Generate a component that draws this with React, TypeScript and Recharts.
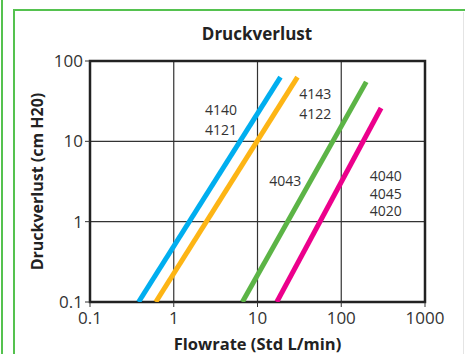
import {
  CartesianGrid,
  Label,
  Line,
  LineChart,
  ReferenceArea,
  ReferenceDot,
  XAxis,
  YAxis,
} from "recharts";

const FONT = "'Open Sans', 'Noto Sans', sans-serif";

const xTicks = [0.1, 1, 10, 100, 1000];
const yTicks = [0.1, 1, 10, 100];

// each line: flow rate (Std L/min) vs pressure drop (cm H2O), two ends in log-log
const flowBlue = [0.38, 18.8];
const dropBlue = [0.1, 63];
const flowOrange = [0.61, 30];
const dropOrange = [0.1, 63];
const flowGreen = [6.6, 199];
const dropGreen = [0.1, 55];
const flowPink = [17, 299];
const dropPink = [0.1, 26];

const colors = ["#00aeef", "#fdb515", "#5cb446", "#ec008c"];

// annotation text next to the lines
const noteLines = [["4140", "4121"], ["4143", "4122"], ["4043"], ["4040", "4045", "4020"]];
const noteX = [3.67, 49, 21.5, 339];
const noteY = [18.3, 29, 3.25, 2.24];
const noteGap = [20, 20, 0, 17.5];

const toPoints = (xs: number[], ys: number[]) => xs.map((x, i) => ({ x, y: ys[i] }));

const series = [
  toPoints(flowBlue, dropBlue),
  toPoints(flowOrange, dropOrange),
  toPoints(flowGreen, dropGreen),
  toPoints(flowPink, dropPink),
];

function Note({ viewBox, lines, gap }: any) {
  const { x, y } = viewBox;
  const top = y - ((lines.length - 1) * gap) / 2;
  return (
    <text textAnchor="middle" fill="#333" fontSize={14} fontFamily={FONT}>
      {lines.map((l: string, i: number) => (
        <tspan key={l} x={x} y={top + i * gap} dy="0.36em">
          {l}
        </tspan>
      ))}
    </text>
  );
}

export default function App() {
  return (
    <div
      style={{
        position: "absolute",
        left: 0,
        top: 0,
        width: 465,
        height: 354,
        background: "#fff",
        fontFamily: FONT,
      }}
    >
      <div style={{ position: "absolute", left: 1, top: 0, width: 2, height: 354, background: "#55c24f" }} />
      <div style={{ position: "absolute", left: 13, top: 9, width: 2, height: 345, background: "#55c24f" }} />
      <div style={{ position: "absolute", left: 13, top: 9, width: 452, height: 2, background: "#55c24f" }} />
      <div style={{ position: "absolute", left: 463, top: 12, width: 1, height: 342, background: "#e4e4e4" }} />
      <div
        style={{
          position: "absolute",
          left: 257,
          top: 33,
          transform: "translate(-50%, -50%)",
          fontWeight: 700,
          fontSize: 17,
          color: "#222",
          whiteSpace: "nowrap",
        }}
      >
        Druckverlust
      </div>
      <LineChart
        width={465}
        height={354}
        margin={{ top: 61, right: 40, bottom: 0, left: 0 }}
        style={{ position: "absolute", left: 0, top: 0 }}
      >
        <CartesianGrid stroke="#333" strokeWidth={1.2} />
        <XAxis
          dataKey="x"
          type="number"
          scale="log"
          domain={[0.1, 1000]}
          ticks={xTicks}
          allowDataOverflow
          height={52}
          axisLine={false}
          tickSize={5}
          tickMargin={5}
          tickLine={{ stroke: "#333" }}
          tick={{ fill: "#333", fontSize: 17, fontFamily: FONT }}
        >
          <Label
            content={({ viewBox }: any) => (
              <text
                x={viewBox.x + viewBox.width / 2}
                y={viewBox.y + 41.5}
                textAnchor="middle"
                dominantBaseline="central"
                fontWeight={700}
                fontSize={16.5}
                fontFamily={FONT}
                fill="#222"
              >
                Flowrate (Std L/min)
              </text>
            )}
          />
        </XAxis>
        <YAxis
          type="number"
          scale="log"
          domain={[0.1, 100]}
          ticks={yTicks}
          allowDataOverflow
          width={90}
          axisLine={false}
          tickSize={5}
          tickLine={{ stroke: "#333" }}
          tick={{ fill: "#333", fontSize: 17, fontFamily: FONT }}
        >
          <Label
            content={({ viewBox }: any) => {
              const cx = viewBox.x + 37;
              const cy = viewBox.y + viewBox.height / 2;
              return (
                <text
                  x={cx}
                  y={cy}
                  transform={`rotate(-90 ${cx} ${cy})`}
                  textAnchor="middle"
                  dominantBaseline="central"
                  fontWeight={700}
                  fontSize={16}
                  fontFamily={FONT}
                  fill="#222"
                >
                  Druckverlust (cm H20)
                </text>
              );
            }}
          />
        </YAxis>
        {series.map((pts, i) => (
          <Line
            key={i}
            data={pts}
            dataKey="y"
            stroke={colors[i]}
            strokeWidth={5}
            dot={false}
            activeDot={false}
            isAnimationActive={false}
          />
        ))}
        <ReferenceArea
          x1={0.1}
          x2={1000}
          y1={0.1}
          y2={100}
          fill="none"
          stroke="#222"
          strokeWidth={2.5}
          ifOverflow="visible"
        />
        {noteLines.map((lines, i) => (
          <ReferenceDot
            key={lines[0]}
            x={noteX[i]}
            y={noteY[i]}
            r={0}
            stroke="none"
            fill="none"
            label={<Note lines={lines} gap={noteGap[i]} />}
          />
        ))}
      </LineChart>
    </div>
  );
}
